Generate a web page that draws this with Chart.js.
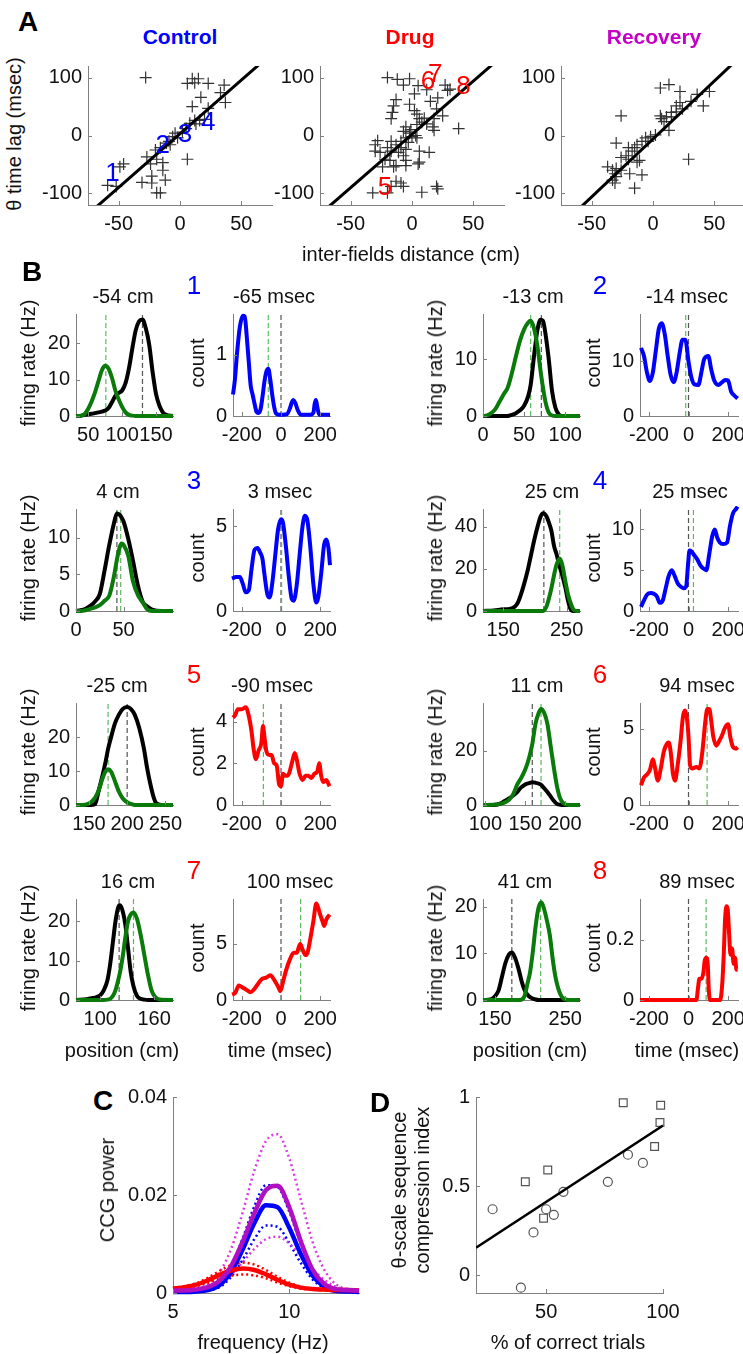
<!DOCTYPE html>
<html>
<head>
<meta charset="utf-8">
<script src="https://cdn.jsdelivr.net/npm/chart.js@4.4.1/dist/chart.umd.min.js"></script>
<style>
body { margin:0; width:743px; height:1354px; background:#fff; position:relative; overflow:hidden;
  font-family:"Liberation Sans", Arial, sans-serif; }
canvas { position:absolute; }
.t { position:absolute; transform:translate(-50%,-50%); white-space:nowrap; font-size:20px; color:#111; line-height:1; z-index:5; }
.r { transform:translate(-50%,-50%) rotate(-90deg); }
.big { font-weight:bold; font-size:28px; color:#000; }
</style>
</head>
<body>
<script>
// ---- panel A: theta time lag vs inter-field distance ----
var ctrlX = [-28,10,15,12,6,23,17,36,33,37,23,10,12,16,8,5,2,-4,-6,-2,-11,-8,-16,6,-27,-24,-19,-14,-14,-12,-23,-31,-23,-19,-16,-46,-49,-59,-52,20,13,-9,-20];
var ctrlY = [100,98,98,91,90,90,66,87,74,57,47,50,26,26,21,12,6,4,-2,-4,-13,-16,-21,-41,-37,-49,-41,-47,-60,-77,-70,-81,-82,-99,-99,-49,-54,-86,-88,28,20,-10,-25];
var drugX = [-20,-12,-2,-7,5,2,12,27,31,29,21,15,25,20,-13,-15,-16,-17,-2,2,4,6,8,4,18,17,18,38,-5,-7,-2,0,4,-5,-9,-17,-13,-28,-30,-30,-26,-20,-17,-11,-7,-9,-5,6,14,6,5,-22,-18,-24,-15,-13,-5,-5,-13,-9,-7,-17,-20,-32,8,20,21,10,12,-1,3,-3];
var drugY = [100,97,98,87,86,72,79,87,80,78,65,59,34,46,62,51,40,29,54,43,37,29,23,19,29,15,9,12,15,7,4,-2,-4,-4,-10,-10,-16,-9,-16,-27,-29,-21,-27,-29,-35,-21,-24,-27,-29,-46,-49,-41,-43,-54,-54,-52,-43,-52,-79,-82,-88,-88,-99,-99,-98,-88,-92,30,20,10,0,-12];
var recX = [6,13,22,36,46,31,41,24,19,15,19,22,7,11,9,15,6,13,-26,2,-2,-6,-4,-9,-13,-15,-20,-17,-30,-11,-13,-22,-20,-26,-30,-26,-31,-37,-33,-30,-33,-31,-19,-9,-15,29];
var recY = [82,88,76,71,76,59,51,46,41,40,51,57,29,32,24,32,34,9,34,1,-2,-4,-10,-10,-16,-21,-21,-27,-13,-43,-46,-35,-41,-38,-57,-60,-66,-54,-60,-71,-77,-82,-66,-68,-91,-41];
var fitXA = [-75, 75];
var ctrlFitY = [-136, 142];
var drugFitY = [-136, 140];
var recFitY = [-156, 144];
var ctrlTags = ['1','2','3','4'], ctrlTagX = [-55,-14,4,23], ctrlTagY = [-66,-17,1,22];
var drugTags = ['5','6','7','8'], drugTagX = [-22,13,19,42], drugTagY = [-91,93,104,84];
var ticksAX = [-50, 0, 50], ticksAY = [-100, 0, 100];

// ---- panel B: place fields (position) and cross-correlograms (lag) ----
var pos1 = [32,40,45,50,55,60,65,70,75,80,85,90,95,100,105,110,115,120,125,130,135,140,145,150,155,160,165,175];
var black1 = [0,0.1,0.3,0.5,0.6,0.8,1,1.2,1.5,2.2,3.8,5.5,6.3,7,9,13,18.5,23.5,26,26.5,24,19.5,12,6,2.8,1,0.3,0];
var green1 = [0,0.1,0.6,2,4,6.5,9.5,12.5,13.8,13,10.5,7,4.5,2.5,1,0.3,0.1,0,0,0,0,0,0,0,0,0,0,0];
var pos2 = [0,5,10,15,20,25,30,35,40,45,50,55,58,62,66,70,73,76,80,84,88,92,96,100,118];
var black2 = [0,0,0,0,0,0,0,0.2,0.5,1,1.8,3.5,5.5,10.5,15,17,16.8,14.5,10,4.4,1.5,0.3,0,0,0];
var green2 = [0,0.1,0.5,1.2,2.5,3.8,5,7.5,10.5,13.3,15.3,16.5,16.8,15.5,12.5,8,5,2.5,0.6,0.1,0,0,0,0,0];
var pos3 = [0,5,10,15,20,25,30,35,40,43,46,48,50,55,60,65,70,75,80,90,102];
var black3 = [0,0.1,0.3,0.7,1.3,2.3,5.5,9,12,13.3,13.1,12.7,12.2,9.8,6.8,3.5,1.3,0.6,0.2,0,0];
var green3 = [0,0,0.1,0.3,0.5,0.8,1.4,2.1,4.8,7,8.7,9.2,9,7.5,4,2.2,1.2,0.2,0,0,0];
var pos4 = [118,135,150,160,168,173,178,183,189,194,199,204,209,213,218,222,226,230,234,239,243,248,252,256,260,265,271];
var black4 = [0,0.3,0.8,1,2,4,8,13,20,27,34,40,45,46.5,45,42,38,31,27,21,17,11,5,1,0,0,0];
var green4 = [0,0,0,0,0,0,0,0,0,0,0,0,0,0,2,6,11,17,22,25,22,14,8,4,1,0,0];
var pos5 = [133,145,152,158,163,168,172,175,179,184,189,194,200,205,210,216,222,226,231,235,238,245,260];
var black5 = [0,0,0,0.3,4.5,9,13,16.5,20,24,26.5,28.2,28.8,28.2,26.5,22.5,16.5,11,5.5,2,0.5,0,0];
var green5 = [0,0.1,0.7,2.2,4.5,8,10,10.5,9.8,7,4,2,0.8,0.3,0,0,0,0,0,0,0,0,0];
var pos6 = [97,110,115,120,125,130,135,140,145,150,155,159,163,167,170,174,178,182,186,190,194,198,205,219];
var black6 = [0,0,0.2,0.7,1.6,2.5,3.5,4.8,6.5,7.6,8.1,8.4,8.2,7.9,7.5,6.2,4.8,3.2,1.6,0.4,0.1,0,0,0];
var green6 = [0,0.1,0.2,0.5,1,2,4,7.5,10,13,17.5,22.5,30,34,35.5,34,30,22,14,7,2.5,0.7,0,0];
var pos7 = [73,85,92,100,104,108,111,114,117,120,122,125,128,131,134,137,141,145,149,153,157,161,166,181];
var black7 = [0,0.2,0.5,1.2,2.5,5,9,14.5,20,23.5,24,22.5,19,13,7,3.5,1,0.3,0.1,0,0,0,0,0];
var green7 = [0,0,0,0,0,0.1,0.3,1,2.5,5,7,11,16,20,21.7,22.2,20.5,16.5,11.5,6.5,2.5,0.8,0.1,0];
var pos8 = [133,145,150,155,160,165,170,174,178,183,188,192,197,200,204,208,212,216,220,224,228,232,236,240,246,255,271];
var black8 = [0,0.2,0.8,2,5,8,9.8,10.2,9.3,7,4,2.2,1,0.6,0.3,0.1,0,0,0,0,0,0,0,0,0,0,0];
var green8 = [0,0,0,0,0,0,0,0,0,0,0.1,0.8,4,6,10.5,16,19.8,21,19.5,17,14,9,5,2.5,0.5,0,0];

var lag1 = [-245,-235,-225,-210,-195,-185,-175,-165,-155,-145,-135,-125,-115,-105,-95,-85,-75,-65,-55,-45,-35,-25,-10,10,30,45,55,63,72,85,100,120,150,165,172,178,185,195,215,250];
var ccg1 = [0.35,0.6,1.0,1.45,1.63,1.62,1.3,0.9,0.5,0.35,0.2,0.07,0.05,0.1,0.3,0.55,0.72,0.77,0.6,0.35,0.15,0.04,0.02,0.02,0.03,0.12,0.22,0.26,0.22,0.1,0.02,0.02,0.02,0.05,0.2,0.26,0.15,0.02,0.02,0.02];
var lag2 = [-240,-225,-210,-195,-180,-165,-150,-135,-120,-105,-90,-75,-60,-45,-30,-16,0,15,30,50,65,80,100,115,130,150,170,185,200,215,230,248];
var ccg2 = [12.5,11,8,6.4,8,12,16,17,15,11,7.5,6.2,8,11.5,14,14,10,7,5.8,5.7,8,10.5,11,8.5,6.5,5.7,6.2,6.6,6.5,4.5,3.8,3.2];
var lag3 = [-250,-230,-210,-195,-180,-165,-150,-135,-120,-105,-95,-85,-70,-58,-45,-30,-15,0,10,25,40,55,65,80,95,110,122,135,150,165,180,190,205,220,232,242,250];
var ccg3 = [1.9,2.0,2.0,1.6,1.1,1.2,2.5,3.6,3.7,3.4,3.1,2.2,1.0,0.8,1.6,3.2,4.8,5.4,5.2,3.8,2.0,0.7,0.6,1.5,3.3,5.0,5.6,5.3,3.7,1.6,0.5,0.8,2.2,3.9,4.2,3.7,2.7];
var lag4 = [-240,-225,-210,-190,-175,-160,-145,-130,-115,-100,-85,-70,-55,-40,-25,-12,-3,5,15,30,45,60,75,90,105,120,133,145,158,175,195,210,225,240,248];
var ccg4 = [0.5,1.3,2.0,2.2,2.1,1.8,1.0,1.3,2.8,4.3,5.0,4.3,3.4,3.0,2.8,3.0,5.5,7.4,7.3,6.8,6.3,5.6,5.2,5.0,7.0,9.2,10,9,8.4,8.2,8.4,10.5,12,12.5,12.8];
var lag5 = [-245,-235,-220,-200,-180,-165,-150,-140,-128,-115,-100,-92,-85,-75,-60,-48,-35,-22,-10,0,10,25,40,55,70,80,95,110,125,140,155,170,185,195,205,215,230,248];
var ccg5 = [4.2,4.3,4.6,4.6,4.7,4.3,3.5,2.7,2.2,2.6,3.0,3.8,3.3,2.6,2.4,2.4,2.0,1.9,1.0,0.9,1.5,1.4,1.5,2.0,2.5,2.2,1.5,1.2,1.4,1.4,1.3,1.5,1.6,2.0,1.4,1.1,1.2,0.9];
var lag6 = [-240,-225,-210,-195,-180,-170,-155,-140,-125,-110,-100,-90,-78,-68,-55,-40,-28,-18,-8,0,8,20,40,55,70,85,95,105,115,125,140,155,170,185,200,212,225,240,248];
var ccg6 = [1.3,1.8,2.0,2.3,3.0,2.5,1.6,2.4,3.5,4.0,4.1,3.5,2.0,1.6,2.6,4.2,5.8,6.2,5.7,4.5,2.6,2.4,2.5,2.4,3.5,5.5,6.3,6.3,5.5,4.5,3.9,4.2,4.6,5.1,5.3,4.4,3.8,3.7,3.8];
var lag7 = [-250,-235,-215,-195,-175,-155,-135,-115,-95,-75,-55,-35,-15,-3,10,25,45,65,80,98,110,125,135,150,165,180,190,200,212,220,232,248];
var ccg7 = [0.5,0.6,1.3,1.1,0.9,0.7,1.0,1.5,1.9,2.0,2.2,1.8,1.2,0.8,1.6,2.6,3.6,4.2,4.2,5.0,4.5,4.0,4.2,5.5,7.0,8.6,8.2,7.6,7.0,6.6,7.2,7.6];
var lag8 = [-245,-200,-100,0,40,48,55,65,75,82,90,97,102,108,140,160,170,178,185,192,198,205,212,220,228,235,242,248];
var ccg8 = [0,0,0,0,0,0.04,0.07,0.07,0.09,0.13,0.14,0.12,0.04,0,0,0,0.05,0.15,0.27,0.31,0.3,0.22,0.15,0.17,0.12,0.14,0.1,0.1];

var fieldBlack = [130, 71, 43, 214, 200, 159, 121, 174];
var fieldGreen = [76, 58, 47, 239, 175, 170, 137, 215];
var lagPeak = [-65, -14, 3, 25, -90, 94, 100, 89];
var distTitles = ['-54 cm', '-13 cm', '4 cm', '25 cm', '-25 cm', '11 cm', '16 cm', '41 cm'];
var lagTitles = ['-65 msec', '-14 msec', '3 msec', '25 msec', '-90 msec', '94 msec', '100 msec', '89 msec'];
var posTicks = [[50,100,150],[0,50,100],[0,50],[150,250],[150,200,250],[100,150,200],[100,160],[150,250]];
var rateTicks = [[0,10,20],[0,10],[0,5,10],[0,20,40],[0,10,20],[0,20],[0,10,20],[0,10,20]];
var lagTicks = [-200, 0, 200];
var countTicks = [[0,1],[0,10],[0,5],[0,5,10],[0,2,4],[0,5],[0,5],[0,0.2]];

// ---- panel C: CCG power spectra ----
var freq = [5,5.5,6,6.5,7,7.5,8,8.5,9,9.5,10,10.5,11,11.5,12,12.5,13];
var ctrlMean = [0.0002,0.0002,0.0003,0.0006,0.0016,0.0043,0.0089,0.0143,0.0179,0.0175,0.0133,0.0079,0.0036,0.0013,0.0004,0.0003,0.0002];
var ctrlHi = [0.0002,0.0003,0.0004,0.0008,0.0020,0.0054,0.0112,0.0177,0.0220,0.0216,0.0166,0.0100,0.0047,0.0018,0.0006,0.0004,0.0003];
var ctrlLo = [0.0002,0.0002,0.0003,0.0005,0.0012,0.0033,0.0068,0.0110,0.0138,0.0135,0.0102,0.0061,0.0028,0.0010,0.0004,0.0003,0.0002];
var drugMean = [0.0009,0.0012,0.0017,0.0026,0.0037,0.0046,0.0050,0.0047,0.0038,0.0027,0.0017,0.0011,0.0008,0.0007,0.0006,0.0006,0.0005];
var drugHi = [0.0010,0.0014,0.0020,0.0031,0.0045,0.0057,0.0062,0.0058,0.0047,0.0033,0.0021,0.0013,0.0009,0.0007,0.0006,0.0006,0.0005];
var drugLo = [0.0008,0.0010,0.0014,0.0021,0.0029,0.0035,0.0038,0.0036,0.0030,0.0021,0.0014,0.0009,0.0007,0.0006,0.0005,0.0005,0.0005];
var recMean = [0.0005,0.0005,0.0007,0.0012,0.0025,0.0055,0.0105,0.0163,0.0210,0.0219,0.0175,0.0105,0.0048,0.0019,0.0008,0.0006,0.0005];
var recHi = [0.0005,0.0006,0.0009,0.0018,0.0042,0.0090,0.0165,0.0250,0.0310,0.0324,0.0275,0.0190,0.0105,0.0048,0.0018,0.0008,0.0006];
var recLo = [0.0005,0.0005,0.0006,0.0009,0.0019,0.0037,0.0063,0.0090,0.0110,0.0115,0.0101,0.0076,0.0049,0.0027,0.0013,0.0007,0.0005];
var freqTicks = [5, 10], powerTicks = [0, 0.02, 0.04];

// ---- panel D: compression index vs performance ----
var sqX = [83, 99, 98.7, 96.4, 50.7, 41.1, 48.9];
var sqY = [0.968, 0.954, 0.857, 0.722, 0.59, 0.524, 0.32];
var circX = [85, 91.4, 76.4, 57.4, 27.1, 50, 53.3, 44.6, 39.2];
var circY = [0.676, 0.63, 0.524, 0.468, 0.37, 0.37, 0.339, 0.24, -0.07];
var fitXD = [20, 100], fitYD = [0.154, 0.84];
var pctTicks = [50, 100], indexTicks = [0, 0.5, 1];

var GRAY = '#808080';
var BLUE = '#0000ff', RED = '#ff0000', GREEN = '#0a7a0a', MAG = '#b010c0', MAGD = '#d83ee0';
Chart.defaults.font.family = '"Liberation Sans", Arial, sans-serif';
Chart.defaults.font.size = 20;
Chart.defaults.color = '#111';

// small inward tick marks, matlab style
var inTicks = {
  id: 'inTicks',
  afterDraw: function (ch) {
    var ctx = ch.ctx, a = ch.chartArea, sx = ch.scales.x, sy = ch.scales.y;
    ctx.save();
    ctx.strokeStyle = GRAY; ctx.lineWidth = 1;
    ctx.beginPath();
    sx.ticks.forEach(function (t) {
      var p = Math.round(sx.getPixelForValue(t.value)) + 0.5;
      ctx.moveTo(p, a.bottom); ctx.lineTo(p, a.bottom - 4);
    });
    sy.ticks.forEach(function (t) {
      var p = Math.round(sy.getPixelForValue(t.value)) + 0.5;
      ctx.moveTo(a.left, p); ctx.lineTo(a.left + 4, p);
    });
    ctx.stroke();
    ctx.restore();
  }
};

// number tags placed in data coords
var tags = {
  id: 'tags',
  afterDatasetsDraw: function (ch) {
    var items = ch.canvas.tags || [];
    var ctx = ch.ctx;
    ctx.save();
    ctx.textAlign = 'center'; ctx.textBaseline = 'middle';
    items.forEach(function (m) {
      ctx.fillStyle = m.color;
      ctx.font = m.size + 'px "Liberation Sans", Arial, sans-serif';
      ctx.fillText(m.text, ch.scales.x.getPixelForValue(m.x), ch.scales.y.getPixelForValue(m.y));
    });
    ctx.restore();
  }
};

function xy(xs, ys) {
  return xs.map(function (x, i) { return {x: x, y: ys[i]}; });
}

function curve(xs, ys, color, w, dash) {
  return {data: xy(xs, ys), borderColor: color, borderWidth: w, borderDash: dash || [],
    pointRadius: 0, cubicInterpolationMode: 'monotone', fill: false, clip: 3};
}

function vline(v, y0, y1, color) {
  return {data: [{x: v, y: y0}, {x: v, y: y1}], borderColor: color, borderWidth: 1.2,
    borderDash: [5, 3], pointRadius: 0, fill: false, clip: 0};
}

function axes(box, xr, yr, xt, yt, datasets, tagList) {
  var padL = 56, padT = 14, padR = 26, padB = 40;
  var w = box[2] - box[0] + padL + padR, h = box[3] - box[1] + padT + padB;
  var cv = document.createElement('canvas');
  cv.width = w; cv.height = h;
  cv.style.left = (box[0] - padL) + 'px';
  cv.style.top = (box[1] - padT) + 'px';
  cv.style.width = w + 'px'; cv.style.height = h + 'px';
  cv.tags = tagList || [];
  document.body.appendChild(cv);
  return new Chart(cv, {
    type: 'line',
    data: {datasets: datasets},
    options: {
      responsive: false, animation: false, devicePixelRatio: 1,
      layout: {padding: {left: 0, top: padT, right: padR, bottom: 0}},
      plugins: {legend: {display: false}, tooltip: {enabled: false}},
      scales: {
        x: {type: 'linear', min: xr[0], max: xr[1],
          afterBuildTicks: function (s) { s.ticks = xt.map(function (v) { return {value: v}; }); },
          afterFit: function (s) { s.height = padB; },
          grid: {drawOnChartArea: false, drawTicks: false},
          border: {color: GRAY},
          ticks: {padding: 7, autoSkip: false, maxRotation: 0, color: '#111',
            callback: function (v) { return String(v); }}},
        y: {type: 'linear', min: yr[0], max: yr[1],
          afterBuildTicks: function (s) { s.ticks = yt.map(function (v) { return {value: v}; }); },
          afterFit: function (s) { s.width = padL; },
          grid: {drawOnChartArea: false, drawTicks: false},
          border: {color: GRAY},
          ticks: {padding: 6, autoSkip: false, color: '#111',
            callback: function (v) { return String(v); }}}
      }
    },
    plugins: [inTicks, tags]
  });
}

function label(text, x, y, cls, css) {
  var d = document.createElement('div');
  d.className = 't' + (cls ? ' ' + cls : '');
  d.innerHTML = text;
  d.style.left = x + 'px'; d.style.top = y + 'px';
  if (css) d.style.cssText += css;
  document.body.appendChild(d);
}

function crosses(xs, ys) {
  return {data: xy(xs, ys), showLine: false, pointStyle: 'cross', pointRadius: 6,
    borderColor: '#333', borderWidth: 1.2, clip: 6};
}

function fitLine(xs, ys, w) {
  return {data: xy(xs, ys), borderColor: '#000', borderWidth: w, pointRadius: 0, clip: 0};
}

// ---- A ----
var aX = [-75, 75], aY = [-120, 120];
axes([88, 62, 272, 205], aX, aY, ticksAX, ticksAY,
  [fitLine(fitXA, ctrlFitY, 3), crosses(ctrlX, ctrlY)],
  ctrlTags.map(function (t, i) { return {text: t, x: ctrlTagX[i], y: ctrlTagY[i], color: BLUE, size: 26}; }));
axes([320, 62, 504, 205], aX, aY, ticksAX, ticksAY,
  [fitLine(fitXA, drugFitY, 3), crosses(drugX, drugY)],
  drugTags.map(function (t, i) { return {text: t, x: drugTagX[i], y: drugTagY[i], color: RED, size: 26}; }));
axes([561, 62, 745, 205], aX, aY, ticksAX, ticksAY,
  [fitLine(fitXA, recFitY, 3), crosses(recX, recY)]);

label('A', 28, 22, 'big');
label('Control', 180, 36, '', 'font-weight:bold;font-size:21px;color:' + BLUE);
label('Drug', 410, 36, '', 'font-weight:bold;font-size:21px;color:' + RED);
label('Recovery', 654, 36, '', 'font-weight:bold;font-size:21px;color:#c400c4');
label('&theta; time lag (msec)', 14, 134, 'r');
label('inter-fields distance (cm)', 411, 254);

// ---- B ----
var posList = [pos1, pos2, pos3, pos4, pos5, pos6, pos7, pos8];
var blackList = [black1, black2, black3, black4, black5, black6, black7, black8];
var greenList = [green1, green2, green3, green4, green5, green6, green7, green8];
var lagList = [lag1, lag2, lag3, lag4, lag5, lag6, lag7, lag8];
var ccgList = [ccg1, ccg2, ccg3, ccg4, ccg5, ccg6, ccg7, ccg8];

var rowTop = [310, 505, 699, 895], rowBot = [416, 611, 805, 1000];
var colFiring = [[76, 173], [483, 580]], colCount = [[233, 330], [640, 738]];
var posRange = [[32,175],[0,118],[0,102],[118,271],[133,260],[97,219],[73,181],[133,271]];
var rateMax = [28, 18, 13.9, 48.5, 30, 37.7, 25.6, 21.7];
var countMax = [1.66, 18.7, 6, 12.5, 4.9, 6.7, 9, 0.334];
var lagRange = [-245, 250];
var distTitleX = [123, 533, 118, 552, 117, 537, 128, 525];
var lagTitleX = [274, 687, 280, 690, 272, 697, 290, 697];

for (var i = 0; i < 8; i++) {
  var row = Math.floor(i / 2), side = i % 2;
  var yTop = rowTop[row], yBot = rowBot[row];
  var col = i < 4 ? BLUE : RED;
  axes([colFiring[side][0], yTop, colFiring[side][1], yBot], posRange[i], [0, rateMax[i]], posTicks[i], rateTicks[i], [
    curve(posList[i], greenList[i], GREEN, 4),
    curve(posList[i], blackList[i], '#000', 4),
    vline(fieldGreen[i], 0, rateMax[i], '#5cb85c'),
    vline(fieldBlack[i], 0, rateMax[i], '#555')
  ]);
  axes([colCount[side][0], yTop, colCount[side][1], yBot], lagRange, [0, countMax[i]], lagTicks, countTicks[i], [
    curve(lagList[i], ccgList[i], col, 4),
    vline(lagPeak[i], 0, countMax[i], '#5cb85c'),
    vline(0, 0, countMax[i], '#555')
  ]);
  label(distTitles[i], distTitleX[i], yTop - 14);
  label(lagTitles[i], lagTitleX[i], yTop - 14);
  label(String(i + 1), side ? 600 : 194, yTop - 25, '', 'font-size:26px;color:' + col);
  label('firing rate (Hz)', side ? 435 : 28, (yTop + yBot) / 2, 'r');
  label('count', side ? 593 : 197, (yTop + yBot) / 2, 'r');
  if (row === 3) {
    label('position (cm)', side ? 530 : 122, 1050);
    label('time (msec)', side ? 687 : 280, 1050);
  }
}
label('B', 32, 272, 'big');

// ---- C ----
axes([173, 1093, 359, 1293], [5, 13], [0, 0.04], freqTicks, powerTicks, [
  curve(freq, recMean, MAG, 4.5),
  curve(freq, drugMean, RED, 4.5),
  curve(freq, ctrlMean, BLUE, 4.5),
  curve(freq, drugHi, RED, 2.5, [2, 3]),
  curve(freq, drugLo, RED, 2.5, [2, 3]),
  curve(freq, recHi, MAGD, 2.5, [2, 3]),
  curve(freq, recLo, MAGD, 2.5, [2, 3]),
  curve(freq, ctrlHi, BLUE, 2.5, [2, 3]),
  curve(freq, ctrlLo, BLUE, 2.5, [2, 3])
]);
label('C', 103, 1101, 'big');
label('CCG power', 107, 1190, 'r');
label('frequency (Hz)', 263, 1342);

// ---- D ----
axes([476, 1093, 663, 1293], [20, 100], [-0.1, 1.0], pctTicks, indexTicks, [
  fitLine(fitXD, fitYD, 2.5),
  {data: xy(sqX, sqY), showLine: false, pointStyle: 'rect', pointRadius: 5.5,
    borderColor: '#555', borderWidth: 1.2, backgroundColor: 'rgba(0,0,0,0)', clip: 8},
  {data: xy(circX, circY), showLine: false, pointStyle: 'circle', pointRadius: 4.5,
    borderColor: '#555', borderWidth: 1.2, backgroundColor: 'rgba(0,0,0,0)', clip: 8}
]);
label('D', 380, 1103, 'big');
label('&theta;-scale sequence<br>compression index', 411, 1190, 'r', 'text-align:center;line-height:23px;');
label('% of correct trials', 568, 1342);
</script>
</body>
</html>
